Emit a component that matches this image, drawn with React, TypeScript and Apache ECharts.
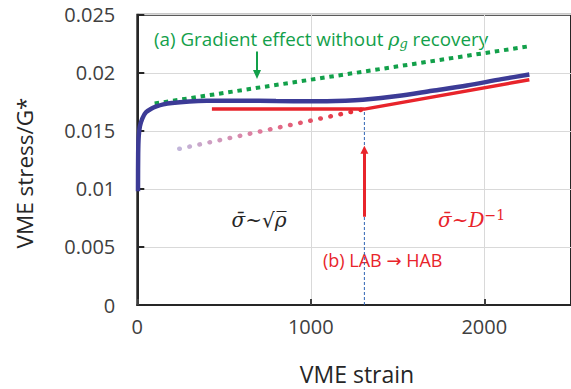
import React, { useEffect, useRef } from "react";
import * as echarts from "echarts";

// Simulated VME stress–strain response (stress normalised by G*)
const blueStrain = [4, 5, 8, 15, 30, 50, 80, 110, 150, 200, 300, 400, 600, 800, 1000, 1200, 1300, 1500, 1700, 1900, 2100, 2260];
const blueStress = [0.0098, 0.013, 0.0145, 0.0154, 0.0161, 0.0166, 0.0169, 0.0171, 0.01728, 0.0174, 0.01752, 0.01758, 0.0176, 0.01757, 0.01755, 0.0176, 0.01768, 0.018, 0.01845, 0.0189, 0.01945, 0.01985];

// (a) gradient effect without rho_g recovery
const greenStrain = [100, 2272];
const greenStress = [0.01735, 0.02231];

// Red model: plateau then grain-size controlled branch
const redStrain = [430, 1309, 2260];
const redStress = [0.01687, 0.01687, 0.0194];

// Red dotted extrapolation of the sqrt(rho) regime
const redDotStrain = [242, 1309];
const redDotStress = [0.01345, 0.01687];

// LAB -> HAB transition strain
const transitionStrain = 1309;

// Arrow annotations (strain, stress from -> to)
const redArrow = { x: 1309, from: 0.0076, to: 0.01336 };
const greenArrow = { x: 690, from: 0.02184, to: 0.01985 };

const yTicks = { min: 0, max: 0.025, interval: 0.005 };
const xTicks = { min: 0, max: 2500, interval: 1000 };

const zip = (xs: number[], ys: number[]) => xs.map((x, i) => [x, ys[i]]);

const FONT = "'Open Sans', 'Noto Sans', sans-serif";
const MATH = "'DejaVu Serif', 'Liberation Serif', serif";

export default function App() {
  const ref = useRef<HTMLDivElement>(null);

  useEffect(() => {
    if (!ref.current) return;
    const chart = echarts.init(ref.current, undefined, { renderer: "svg" });

    const red = "#e8242b";
    const green = "#12a04a";
    const blue = "#3c3b96";

    chart.setOption({
      animation: false,
      grid: {
        left: 137.3,
        top: 14.7,
        width: 441.3,
        height: 290.3,
        show: true,
        borderColor: "#262626",
        borderWidth: 2,
      },
      xAxis: {
        type: "value",
        min: xTicks.min,
        max: xTicks.max,
        interval: xTicks.interval,
        axisLine: { show: true, lineStyle: { color: "#262626", width: 2 } },
        axisTick: { show: true, inside: true, length: 6, lineStyle: { color: "#404040", width: 2 } },
        splitLine: { show: true, lineStyle: { color: "#d9d9d9", width: 1 } },
        axisLabel: {
          margin: 11,
          fontSize: 20,
          fontFamily: FONT,
          color: "#404040",
          showMaxLabel: false,
          formatter: (v: number) => String(v),
        },
      },
      yAxis: {
        type: "value",
        min: yTicks.min,
        max: yTicks.max,
        interval: yTicks.interval,
        axisLine: { show: true, lineStyle: { color: "#262626", width: 2 } },
        axisTick: { show: true, inside: true, length: 7, lineStyle: { color: "#262626", width: 2 } },
        splitLine: { show: true, lineStyle: { color: "#d9d9d9", width: 1 } },
        axisLabel: {
          margin: 22,
          fontSize: 20,
          fontFamily: FONT,
          color: "#404040",
          formatter: (v: number) => String(Number(v.toFixed(3))),
        },
      },
      series: [
        {
          name: "transition",
          type: "line",
          data: [
            [transitionStrain, 0],
            [transitionStrain, redStress[1]],
          ],
          symbol: "none",
          silent: true,
          lineStyle: { color: "#2e64b4", width: 1, type: [3, 2] },
          z: 1,
        },
        {
          name: "gradient",
          type: "line",
          data: zip(greenStrain, greenStress),
          symbol: "none",
          silent: true,
          lineStyle: { color: green, width: 4, type: [4.5, 4.8], cap: "butt" },
          z: 2,
          markLine: {
            silent: true,
            symbol: ["none", "triangle"],
            symbolSize: [8, 9],
            label: { show: false },
            lineStyle: { color: green, width: 2, type: "solid" },
            data: [
              [
                { coord: [greenArrow.x, greenArrow.from] },
                { coord: [greenArrow.x, greenArrow.to] },
              ],
            ],
          },
        },
        {
          name: "sqrt rho extrapolation",
          type: "line",
          data: zip(redDotStrain, redDotStress),
          symbol: "none",
          silent: true,
          lineStyle: {
            width: 4.5,
            type: [0.5, 9.8],
            cap: "round",
            color: new echarts.graphic.LinearGradient(0, 0, 1, 0, [
              { offset: 0, color: "#c2b6da" },
              { offset: 0.45, color: "#e0789a" },
              { offset: 1, color: red },
            ]),
          },
          z: 3,
        },
        {
          name: "model",
          type: "line",
          data: zip(redStrain, redStress),
          symbol: "none",
          silent: true,
          lineStyle: { color: red, width: 3.5 },
          z: 4,
          markLine: {
            silent: true,
            symbol: ["none", "triangle"],
            symbolSize: [8, 8],
            label: { show: false },
            lineStyle: { color: red, width: 3, type: "solid" },
            data: [
              [
                { coord: [redArrow.x, redArrow.from] },
                { coord: [redArrow.x, redArrow.to] },
              ],
            ],
          },
        },
        {
          name: "VME",
          type: "line",
          data: zip(blueStrain, blueStress),
          symbol: "none",
          smooth: 0.3,
          silent: true,
          lineStyle: { color: blue, width: 4.5 },
          z: 5,
        },
      ],
      graphic: [
        {
          type: "text",
          x: 24,
          y: 173,
          rotation: Math.PI / 2,
          style: {
            text: "VME stress/G*",
            font: `22.5px ${FONT}`,
            fill: "#262626",
            align: "center",
            verticalAlign: "middle",
          },
        },
        {
          type: "text",
          x: 357,
          y: 374,
          style: {
            text: "VME strain",
            font: `23px ${FONT}`,
            fill: "#262626",
            align: "center",
            verticalAlign: "middle",
          },
        },
        {
          type: "text",
          x: 154,
          y: 39,
          style: {
            text: "(a) Gradient effect without {rho|ρ}{sub|g} recovery",
            fontFamily: FONT,
            fontSize: 18.8,
            fill: green,
            verticalAlign: "middle",
            rich: {
              rho: { fontFamily: MATH, fontStyle: "italic", fontSize: 19, fill: green },
              sub: { fontFamily: MATH, fontStyle: "italic", fontSize: 13, fill: green, padding: [9, 0, 0, 0] },
            },
          },
        },
        {
          type: "text",
          x: 259,
          y: 220,
          style: {
            text: "{i|σ̄}{n|~}{n|√}{i|ρ̅}",
            fill: "#262626",
            align: "center",
            verticalAlign: "middle",
            rich: {
              i: { fontFamily: MATH, fontStyle: "italic", fontSize: 20, fill: "#262626" },
              n: { fontFamily: MATH, fontSize: 20, fill: "#262626" },
            },
          },
        },
        {
          type: "text",
          x: 438,
          y: 220,
          style: {
            text: "{i|σ̄}{n|~}{i|D}{sup|−1}",
            fill: red,
            verticalAlign: "middle",
            rich: {
              i: { fontFamily: MATH, fontStyle: "italic", fontSize: 20, fill: red },
              n: { fontFamily: MATH, fontSize: 20, fill: red },
              sup: { fontFamily: MATH, fontSize: 14, fill: red, padding: [0, 0, 10, 0] },
            },
          },
        },
        {
          type: "text",
          x: 323,
          y: 260,
          style: {
            text: "(b) LAB {arr|→} HAB",
            fontFamily: FONT,
            fontSize: 18,
            fill: red,
            verticalAlign: "middle",
            rich: {
              arr: { fontFamily: "'DejaVu Sans', sans-serif", fontSize: 18, fill: red },
            },
          },
        },
      ],
    });

    return () => chart.dispose();
  }, []);

  return (
    <div
      ref={ref}
      style={{ position: "fixed", left: 0, top: 0, width: 571, height: 389, background: "#fff" }}
    />
  );
}
